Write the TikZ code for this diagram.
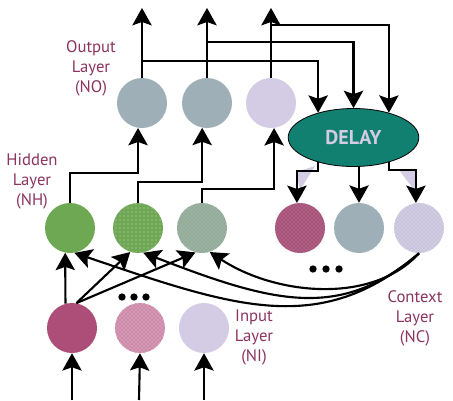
\documentclass[tikz,border=0pt]{standalone}
\usepackage{fontspec}
\setmainfont{PT Sans}
\usetikzlibrary{arrows.meta,patterns,shapes.geometric}
\definecolor{lbl}{HTML}{8B3460}
\definecolor{grayb}{HTML}{9FAFB7}
\definecolor{lav}{HTML}{D4CCE4}
\definecolor{grn}{HTML}{6EA853}
\definecolor{mag}{HTML}{AC4E77}
\definecolor{tealD}{HTML}{128071}
\definecolor{pinkc}{HTML}{D59BB6}
\definecolor{grgr}{HTML}{9CB0A8}
\begin{document}
\begin{tikzpicture}[x=0.75pt,y=-0.75pt,
  neuron/.style={circle,minimum size=37.5pt,inner sep=0pt},
  arr/.style={line width=1.6pt,-{Stealth[length=13pt,width=14.5pt,inset=2.5pt]}},
  lab/.style={text=lbl,font=\fontsize{12.5}{15}\selectfont,align=center,inner sep=0pt},
  blob/.style={circle,fill=black,minimum size=5.5pt,inner sep=0pt},
  shade/.style={fill=lav}]
\useasboundingbox (0,0) rectangle (453,400);
% neurons
\node[neuron,fill=grayb] (o1) at (142,103) {};
\node[neuron,fill=grayb] (o2) at (207,103) {};
\node[neuron,fill=lav] (o3) at (271,103) {};
\node[ellipse,draw=black,line width=0.6pt,fill=tealD,minimum width=98pt,minimum height=43.5pt,inner sep=0pt,
      text=lav,font=\fontsize{15}{17}\selectfont\bfseries] (delay) at (353.5,137.5) {DELAY};
\node[neuron,fill=grn] (h1) at (70,228) {};
\node[neuron,fill=grn,postaction={pattern=dots,pattern color=lav}] (h2) at (138,228) {};
\node[neuron,fill=grgr,postaction={pattern=crosshatch dots,pattern color=grn}] (h3) at (202,228) {};
\node[neuron,fill=mag,postaction={pattern=crosshatch dots,pattern color=grayb}] (c1) at (300,228) {};
\node[neuron,fill=grayb] (c2) at (359,228) {};
\node[neuron,fill=lav,postaction={pattern=crosshatch dots,pattern color=grayb}] (c3) at (419,228) {};
\node[neuron,fill=mag] (i1) at (72,328) {};
\node[neuron,fill=pinkc,postaction={pattern=crosshatch dots,pattern color=mag}] (i2) at (140,328) {};
\node[neuron,fill=lav] (i3) at (204,328) {};
% labels
\node[lab] (lo) at (91,68.5) {Output\\Layer\\(NO)};
\node[lab] (lh) at (32,181.5) {Hidden\\Layer\\(NH)};
\node[lab] (li) at (254,337) {Input\\Layer\\(NI)};
\node[lab] (lc) at (415,318) {Context\\Layer\\(NC)};
% ellipsis dots
\node[blob] (e1) at (313,269) {};
\node[blob] (e2) at (326,269) {};
\node[blob] (e3) at (339,269) {};
\node[blob] (e4) at (122,297) {};
\node[blob] (e5) at (134,297) {};
\node[blob] (e6) at (146,297) {};
% free ends
\coordinate (t1) at (142,8);
\coordinate (t2) at (207,8);
\coordinate (t3) at (271,8);
\coordinate (b1) at (72,400);
\coordinate (b2) at (139,400);
\coordinate (b3) at (204,400);
% lavender wedges under delay
\fill[shade] (296,172) -- (315,166) -- (300,190) -- cycle;
\fill[shade] (399,170) -- (415,171) -- (415,191) -- cycle;
% outputs up
\draw[arr] (o1.north) -- (t1);
\draw[arr] (o2.north) -- (t2);
\draw[arr] (o3.north) -- (t3);
% outputs to delay
\draw[arr] (o1.north) ++(0,-17) -| (delay.145);
\draw[arr] (o2.north) ++(0,-36) -| (delay.north);
\draw[arr] (o3.north) ++(0,-53) -| (delay.35);
% delay to context
\draw[arr] (delay.-145) -- ++(0,9) -| (c1.97);
\draw[arr] (c2.north |- delay.south) -- (c2.north);
\draw[arr] (delay.-35) -- ++(0,8) -| (c3.97);
% hidden to output
\draw[arr] (h1.north) -- ++(0,-30) -| (o1.-99);
\draw[arr] (h2.north) -- ++(0,-21) -| (o2.-101);
\draw[arr] (h3.north) -- ++(0,-14) -| (o3.-83);
% input to hidden
\draw[arr] (i1.105) -- (h1.-101);
\draw[arr] (i1.80) -- (h2.-108);
\draw[arr] (i1.80) -- (h3.-105);
% context to hidden
\draw[arr] (c3.south) .. controls (320,338) and (234,307) .. (h1.-80);
\draw[arr] (c3.south) .. controls (340,321) and (273,303) .. (h2.-78);
\draw[arr] (c3.south) .. controls (372,305) and (275,295) .. (h3.-72);
% inputs
\draw[arr] (b1) -- (i1.south);
\draw[arr] (b2) -- (i2.south);
\draw[arr] (b3) -- (i3.south);
\end{tikzpicture}
\end{document}
